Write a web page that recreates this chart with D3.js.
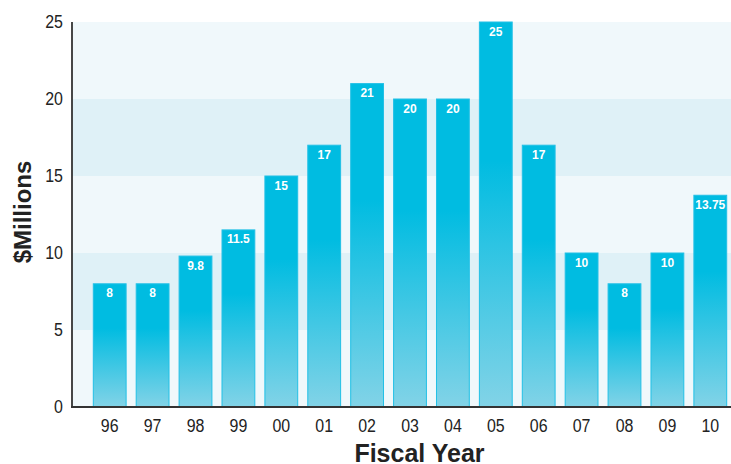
<!DOCTYPE html>
<html>
<head>
<meta charset="utf-8">
<script src="https://cdn.jsdelivr.net/npm/d3@7"></script>
<style>
  body { margin: 0; background: #fff; }
  svg { display: block; }
  .tick-label { font-family: "Liberation Sans", Arial, sans-serif; font-size: 19px; fill: #222; }
  .axis-title { font-family: "Liberation Sans", Arial, sans-serif; font-weight: bold; font-size: 24px; fill: #222; }
  .value-label { font-family: "Liberation Sans", Arial, sans-serif; font-weight: bold; font-size: 12px; fill: #fff; }
</style>
</head>
<body>
<svg id="chart" width="731" height="464"></svg>
<script>
// fiscal years and funding ($ millions)
var years = ["96", "97", "98", "99", "00", "01", "02", "03", "04", "05", "06", "07", "08", "09", "10"];
var amounts = [8, 8, 9.8, 11.5, 15, 17, 21, 20, 20, 25, 17, 10, 8, 10, 13.75];
var valueLabels = ["8", "8", "9.8", "11.5", "15", "17", "21", "20", "20", "25", "17", "10", "8", "10", "13.75"];
var yTicks = [0, 5, 10, 15, 20, 25];

var svg = d3.select("#chart");
var plotLeft = 72, plotRight = 731, plotTop = 22, plotBottom = 407;
var narrow = 0.84; // tick labels use a condensed face in the original

var x = d3.scaleBand()
    .domain(years)
    .range([93.3, 726.7])
    .paddingInner(0.235)
    .paddingOuter(0);

var y = d3.scaleLinear()
    .domain([0, 25])
    .range([plotBottom, plotTop]);

// gradient for the bars
var defs = svg.append("defs");
var grad = defs.append("linearGradient")
    .attr("id", "barGrad")
    .attr("x1", 0).attr("y1", 0)
    .attr("x2", 0).attr("y2", 1);
grad.append("stop").attr("offset", "0").attr("stop-color", "#00bce1");
grad.append("stop").attr("offset", "0.36").attr("stop-color", "#00bce1");
grad.append("stop").attr("offset", "1").attr("stop-color", "#82d3e7");

// background bands
var bands = d3.range(0, 5);
svg.selectAll("rect.band")
    .data(bands)
    .enter()
    .append("rect")
    .attr("class", "band")
    .attr("x", plotLeft)
    .attr("width", plotRight - plotLeft)
    .attr("y", function(d) { return y((d + 1) * 5); })
    .attr("height", function(d) { return y(d * 5) - y((d + 1) * 5); })
    .attr("fill", function(d) { return d % 2 == 0 ? "#f0f8fb" : "#dff1f7"; });

// bars
svg.selectAll("rect.bar")
    .data(amounts)
    .enter()
    .append("rect")
    .attr("class", "bar")
    .attr("x", function(d, i) { return x(years[i]); })
    .attr("width", x.bandwidth())
    .attr("y", function(d) { return y(d); })
    .attr("height", function(d) { return y(0) - y(d); })
    .attr("fill", "url(#barGrad)")
    .attr("stroke", "#22c0e6")
    .attr("stroke-width", 1);

// value labels
svg.selectAll("text.value-label")
    .data(amounts)
    .enter()
    .append("text")
    .attr("class", "value-label")
    .attr("text-anchor", "middle")
    .attr("x", function(d, i) { return x(years[i]) + x.bandwidth() / 2; })
    .attr("y", function(d) { return y(d) + 13.5; })
    .text(function(d, i) { return valueLabels[i]; });

// axis lines
svg.append("line")
    .attr("x1", plotLeft).attr("x2", plotLeft)
    .attr("y1", plotTop).attr("y2", plotBottom + 1)
    .attr("stroke", "#333").attr("stroke-width", 1.8);
svg.append("line")
    .attr("x1", plotLeft - 1).attr("x2", plotRight)
    .attr("y1", plotBottom).attr("y2", plotBottom)
    .attr("stroke", "#333").attr("stroke-width", 1.8);

// y tick labels
svg.selectAll("text.ytick")
    .data(yTicks)
    .enter()
    .append("text")
    .attr("class", "tick-label ytick")
    .attr("text-anchor", "end")
    .attr("transform", function(d) { return "translate(63," + (y(d) + 6) + ") scale(" + narrow + ",1)"; })
    .text(function(d) { return d; });

// x tick labels
svg.selectAll("text.xtick")
    .data(years)
    .enter()
    .append("text")
    .attr("class", "tick-label xtick")
    .attr("text-anchor", "middle")
    .attr("transform", function(d) { return "translate(" + (x(d) + x.bandwidth() / 2) + ",432) scale(" + narrow + ",1)"; })
    .text(function(d) { return d; });

// axis titles
svg.append("text")
    .attr("class", "axis-title")
    .attr("text-anchor", "middle")
    .attr("x", 419.5)
    .attr("y", 462)
    .style("font-size", "25px")
    .text("Fiscal Year");

svg.append("text")
    .attr("class", "axis-title")
    .attr("text-anchor", "middle")
    .attr("transform", "translate(31,212) rotate(-90)")
    .text("$Millions");
</script>
</body>
</html>
